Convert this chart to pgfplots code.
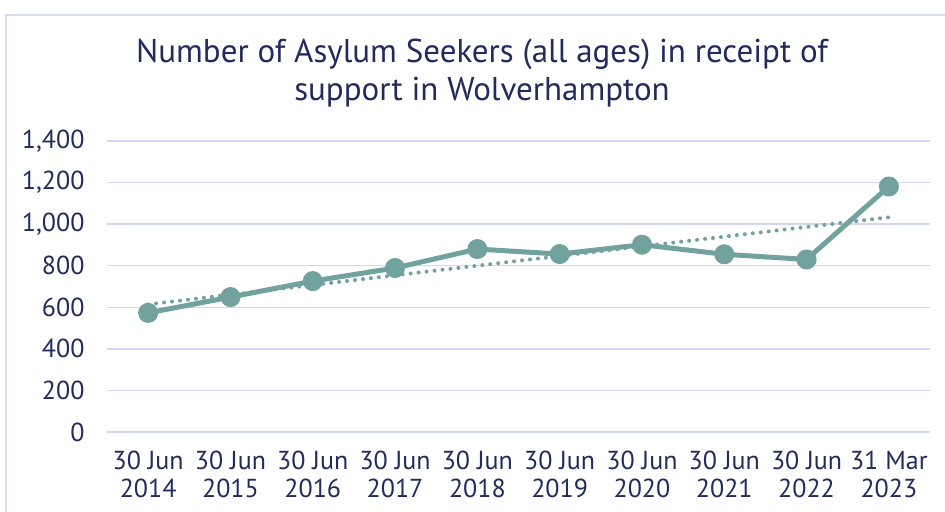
\documentclass[border=0pt]{standalone}
\usepackage{pgfplots}
\pgfplotsset{compat=1.18}
\usepackage{fontspec}
\setmainfont{PT Sans}
\definecolor{teal1}{HTML}{71A29E}
\definecolor{navy}{HTML}{222B5C}
\definecolor{gridc}{HTML}{D3D6EF}
\definecolor{framec}{HTML}{D9DCEF}
\begin{document}
\begin{tikzpicture}[x=1bp,y=1bp]
\path[use as bounding box] (0,0) rectangle (945,512);
\draw[framec, line width=1.5bp] (6,-20) -- (6,497) -- (970,497);
\node[navy, font=\fontsize{33bp}{38bp}\selectfont, align=center] at (482,439) {Number of Asylum Seekers (all ages) in receipt of\\support in Wolverhampton};
\begin{axis}[
  at={(107bp,80bp)}, anchor=south west,
  scale only axis, width=823bp, height=291bp,
  xmin=-0.5, xmax=9.5, ymin=0, ymax=1400,
  axis line style={draw=none},
  tick style={draw=none},
  ytick={0,200,...,1400},
  ymajorgrids, grid style={gridc, line width=1.5bp},
  xtick={0,...,9},
  xticklabels={{30 Jun\\2014},{30 Jun\\2015},{30 Jun\\2016},{30 Jun\\2017},{30 Jun\\2018},{30 Jun\\2019},{30 Jun\\2020},{30 Jun\\2021},{30 Jun\\2022},{31 Mar\\2023}},
  xticklabel style={align=center, font=\fontsize{26bp}{28bp}\selectfont, text=navy, yshift=-15bp},
  yticklabel style={font=\fontsize{26bp}{26bp}\selectfont, text=navy, xshift=-19bp},
  /pgf/number format/assume math mode=true,
  /pgf/number format/.cd, 1000 sep={,},
]
\addplot[teal1, line width=4bp, dash pattern=on 0.01bp off 8bp, line cap=round] coordinates {(0,614) (9,1033)};
\addplot[teal1, line width=5bp, line join=round, mark=*, mark size=7.5bp, mark options={solid}] coordinates {
(0,573) (1,649) (2,726) (3,789) (4,880) (5,856) (6,901) (7,855) (8,830) (9,1181)};
\end{axis}
\end{tikzpicture}
\end{document}
